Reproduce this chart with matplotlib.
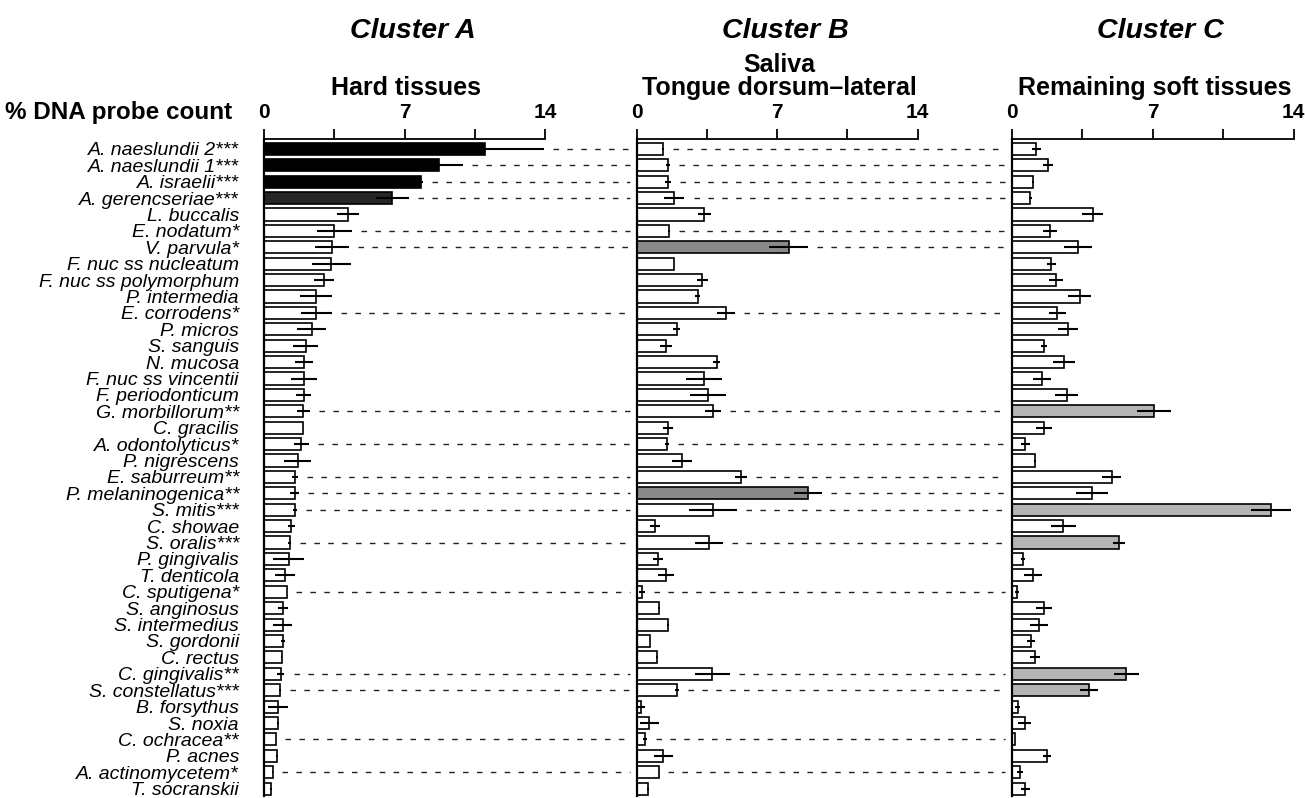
import matplotlib

matplotlib.use("Agg")
import matplotlib.pyplot as plt
import numpy as np

# ---------- data: % DNA probe count, mean and SEM per cluster ----------
species = [
    "A. naeslundii 2***", "A. naeslundii 1***", "A. israelii***", "A. gerencseriae***",
    "L. buccalis", "E. nodatum*", "V. parvula*", "F. nuc ss nucleatum",
    "F. nuc ss polymorphum", "P. intermedia", "E. corrodens*", "P. micros",
    "S. sanguis", "N. mucosa", "F. nuc ss vincentii", "F. periodonticum",
    "G. morbillorum**", "C. gracilis", "A. odontolyticus*", "P. nigrescens",
    "E. saburreum**", "P. melaninogenica**", "S. mitis***", "C. showae",
    "S. oralis***", "P. gingivalis", "T. denticola", "C. sputigena*",
    "S. anginosus", "S. intermedius", "S. gordonii", "C. rectus",
    "C. gingivalis**", "S. constellatus***", "B. forsythus", "S. noxia",
    "C. ochracea**", "P. acnes", "A. actinomycetem*", "T. socranskii",
]

hard_mean = [11.0, 8.7, 7.8, 6.4, 4.17, 3.49, 3.4, 3.35, 3.0, 2.6,
             2.6, 2.37, 2.07, 2.0, 2.0, 1.97, 1.96, 1.96, 1.85, 1.67,
             1.56, 1.52, 1.52, 1.36, 1.28, 1.23, 1.06, 1.15, 0.97, 0.93,
             0.93, 0.89, 0.84, 0.78, 0.7, 0.7, 0.58, 0.63, 0.44, 0.34]
hard_sem = [2.95, 1.2, 0.1, 0.8, 0.55, 0.87, 0.85, 0.97, 0.5, 0.8,
            0.77, 0.72, 0.62, 0.45, 0.64, 0.37, 0.33, 0.0, 0.37, 0.68,
            0.15, 0.2, 0.1, 0.17, 0.07, 0.76, 0.5, 0.0, 0.25, 0.46,
            0.1, 0.03, 0.18, 0.05, 0.5, 0.03, 0.0, 0.05, 0.03, 0.05]

saliva_mean = [1.33, 1.54, 1.54, 1.86, 3.37, 1.63, 7.57, 1.86, 3.27, 3.04,
               4.45, 1.99, 1.46, 3.99, 3.37, 3.54, 3.82, 1.54, 1.5, 2.24,
               5.2, 8.52, 3.82, 0.91, 3.6, 1.08, 1.46, 0.25, 1.13, 1.58,
               0.66, 1.0, 3.77, 1.99, 0.22, 0.63, 0.42, 1.33, 1.11, 0.55]
saliva_sem = [0.05, 0.1, 0.15, 0.52, 0.33, 0.05, 0.98, 0.0, 0.27, 0.12,
              0.47, 0.18, 0.32, 0.17, 0.89, 0.89, 0.4, 0.25, 0.1, 0.5,
              0.29, 0.7, 1.2, 0.23, 0.68, 0.25, 0.39, 0.15, 0.05, 0.05,
              0.0, 0.05, 0.87, 0.1, 0.2, 0.47, 0.1, 0.47, 0.0, 0.06]

soft_mean = [1.2, 1.79, 1.05, 0.92, 4.02, 1.89, 3.29, 1.95, 2.2, 3.37,
             2.25, 2.79, 1.59, 2.59, 1.5, 2.72, 7.05, 1.59, 0.67, 1.14,
             4.96, 3.97, 12.9, 2.55, 5.34, 0.53, 1.05, 0.25, 1.59, 1.35,
             0.95, 1.14, 5.68, 3.84, 0.28, 0.63, 0.17, 1.72, 0.42, 0.67]
soft_sem = [0.23, 0.25, 0.05, 0.05, 0.52, 0.33, 0.68, 0.22, 0.36, 0.57,
            0.42, 0.48, 0.17, 0.55, 0.45, 0.57, 0.85, 0.38, 0.23, 0.05,
            0.47, 0.78, 1.0, 0.62, 0.3, 0.1, 0.45, 0.1, 0.4, 0.43,
            0.2, 0.25, 0.62, 0.45, 0.12, 0.33, 0.0, 0.2, 0.15, 0.22]

clusters = ["Cluster A", "Cluster B", "Cluster C"]
sites = ["Hard tissues", "Saliva\nTongue dorsum\u2013lateral", "Remaining soft tissues"]

# highlighted bars (cluster-characteristic species)
fills = [
    {0: "black", 1: "black", 2: "black", 3: "#262626"},
    {6: "#8a8a8a", 21: "#8a8a8a"},
    {16: "#b4b4b4", 22: "#b4b4b4", 24: "#b4b4b4", 32: "#b4b4b4", 33: "#b4b4b4"},
]

plt.rcParams.update({"font.family": "Liberation Sans", "font.weight": "bold"})

W, H = 1305, 798
fig = plt.figure(figsize=(W / 100, H / 100), dpi=100)
top_px, bot_px = 139, 796
panel_px = [(264, 545), (636.7, 917.7), (1012, 1293.5)]
axes = [
    fig.add_axes([x0 / W, 1 - bot_px / H, (x1 - x0) / W, (bot_px - top_px) / H])
    for x0, x1 in panel_px
]

means = [hard_mean, saliva_mean, soft_mean]
sems = [hard_sem, saliva_sem, soft_sem]
y = np.arange(len(species))
starred = [i for i, s in enumerate(species) if s.endswith("*")]

for k, ax in enumerate(axes):
    m = np.array(means[k])
    e = np.array(sems[k])
    colors = [fills[k].get(i, "white") for i in range(len(species))]
    ax.barh(y, m, height=0.74, color=colors, edgecolor="black", linewidth=1.2, zorder=2)
    ax.errorbar(m, y, xerr=e, fmt="none", ecolor="black", elinewidth=1.5,
                capsize=0, zorder=3)

    # dashed connectors for significantly different species
    if k < 2:
        nxt = panel_px[k + 1][0]
        x0, x1 = panel_px[k]
        x_end = (nxt - 7 - x0) / (x1 - x0) * 14
        for i in starred:
            ax.plot([m[i] + e[i] + 0.45, x_end], [i, i], color="#222222",
                    lw=1.0, ls=(0, (4, 6)), clip_on=False, zorder=1)

    ax.set_xlim(0, 14)
    ax.set_ylim(39.45, -0.6)
    for side in ["right", "bottom"]:
        ax.spines[side].set_visible(False)
    ax.spines["left"].set_linewidth(1.6)
    ax.spines["top"].set_linewidth(1.3)
    ax.spines["top"].set_bounds(0, 14)
    ax.xaxis.tick_top()
    ax.set_xticks([0, 7, 14])
    ax.set_xticks([3.5, 10.5], minor=True)
    ax.tick_params(axis="x", which="both", direction="out", length=7, width=1.3,
                   labelsize=15, pad=5)
    ax.tick_params(axis="y", length=0)
    ax.set_facecolor("none")
    if k == 0:
        ax.set_yticks(y)
        ax.set_yticklabels(species, fontstyle="italic", fontweight="normal",
                           fontsize=14, family=["Liberation Sans Narrow", "Liberation Sans"])
        ax.tick_params(axis="y", pad=18)
    else:
        ax.set_yticks([])

    cx = (panel_px[k][0] + panel_px[k][1]) / 2 / W
    fig.text(cx + 8 / W, 1 - 31 / H, clusters[k], ha="center", va="center",
             fontsize=20.5, fontstyle="italic", fontweight="bold")
    fig.text(cx + 2 / W, 1 - 100 / H, sites[k], ha="center", va="bottom",
             fontsize=18, fontweight="bold", linespacing=0.95)

fig.text(5 / W, 1 - 112 / H, "% DNA probe count", ha="left", va="center",
         fontsize=17.5, fontweight="bold")

fig.savefig("out.png", dpi=100)
plt.close()
